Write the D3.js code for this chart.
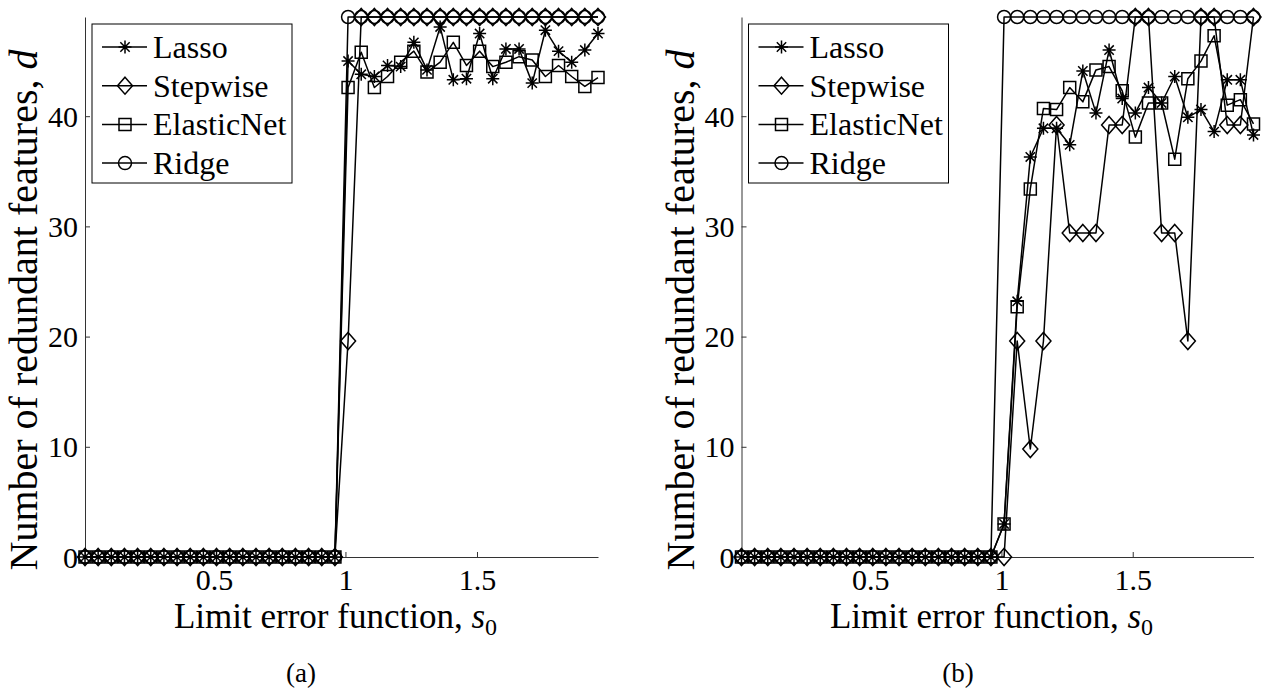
<!DOCTYPE html>
<html>
<head>
<meta charset="utf-8">
<script src="https://cdn.jsdelivr.net/npm/d3@7"></script>
<style>
  html, body { margin: 0; padding: 0; background: #fff; }
  svg { display: block; }
  text { font-family: "Liberation Serif", "Times New Roman", serif; fill: #000; }
</style>
</head>
<body>
<svg id="fig" width="1269" height="695"></svg>
<script>
// Limit error function values s0 (shared by both panels)
const s0 = [0.01, 0.06, 0.11, 0.16, 0.21, 0.26, 0.31, 0.36, 0.41, 0.46,
            0.51, 0.56, 0.61, 0.66, 0.71, 0.76, 0.81, 0.86, 0.91, 0.96,
            1.01, 1.06, 1.11, 1.16, 1.21, 1.26, 1.31, 1.36, 1.41, 1.46,
            1.51, 1.56, 1.61, 1.66, 1.71, 1.76, 1.81, 1.86, 1.91, 1.96];

const zeros20 = [0, 0, 0, 0, 0, 0, 0, 0, 0, 0, 0, 0, 0, 0, 0, 0, 0, 0, 0, 0];

// Panel (a): number of redundant features d
const lassoA = zeros20.concat([45.0, 43.8, 43.6, 44.6, 44.5, 46.7, 44.2, 48.1, 43.3, 43.4,
                               47.5, 43.4, 46.1, 46.1, 43.0, 47.8, 45.9, 44.9, 46.0, 47.5]);
const stepwiseA = zeros20.concat([19.6, 49, 49, 49, 49, 49, 49, 49, 49, 49,
                                  49, 49, 49, 49, 49, 49, 49, 49, 49, 49]);
const elasticA = zeros20.concat([42.6, 45.8, 42.6, 43.6, 44.9, 45.9, 44.0, 44.9, 46.7, 44.6,
                                 45.9, 44.5, 44.9, 45.4, 45.1, 43.6, 44.6, 43.6, 42.7, 43.5]);
const ridgeA = zeros20.concat([49, 49, 49, 49, 49, 49, 49, 49, 49, 49,
                               49, 49, 49, 49, 49, 49, 49, 49, 49, 49]);

// Panel (b)
const lassoB = zeros20.concat([3.0, 23.2, 36.3, 38.9, 38.9, 37.4, 44.1, 40.3, 46.0, 41.6,
                               40.3, 42.6, 41.2, 43.6, 39.9, 40.6, 38.6, 43.3, 43.3, 38.3]);
const stepwiseB = zeros20.concat([0, 19.6, 9.8, 19.6, 39.2, 29.4, 29.4, 29.4, 39.2, 39.2,
                                  49, 49, 29.4, 29.4, 19.6, 49, 49, 39.2, 39.2, 49]);
const elasticB = zeros20.concat([3.0, 22.7, 33.4, 40.7, 40.6, 42.6, 41.3, 44.2, 44.5, 42.3,
                                 38.1, 41.2, 41.2, 36.1, 43.4, 45.0, 47.3, 41.0, 41.5, 39.3]);
const ridgeB = zeros20.concat([49, 49, 49, 49, 49, 49, 49, 49, 49, 49,
                               49, 49, 49, 49, 49, 49, 49, 49, 49, 49]);

const seriesNames = ["Lasso", "Stepwise", "ElasticNet", "Ridge"];
const xTicks = [0.5, 1, 1.5];
const yTicks = [0, 10, 20, 30, 40];
const panelLabels = ["(a)", "(b)"];
const xLabel = "Limit error function, ";
const yLabel = "Number of redundant features, ";

// Marker shapes: asterisk, diamond, square, circle
const markerPaths = {
  Lasso: () => {
    const r = 6.5, q = r * 0.72;
    return `M${-r},0H${r}M0,${-r}V${r}M${-q},${-q}L${q},${q}M${-q},${q}L${q},${-q}`;
  },
  Stepwise: () => "M0,-8.5L7.5,0L0,8.5L-7.5,0Z",
  ElasticNet: () => "M-6,-6H6V6H-6Z",
  Ridge: () => d3.arc()({innerRadius: 0, outerRadius: 6.5, startAngle: 0, endAngle: 2 * Math.PI})
};

const svg = d3.select("#fig");

function drawPanel(opts) {
  const { left, right, top, bottom, series, label, labelX } = opts;
  const g = svg.append("g");
  const x = d3.scaleLinear().domain([s0[0], s0[s0.length - 1]]).range([left, right]);
  const y = d3.scaleLinear().domain([0, 49]).range([bottom, top]);

  // axes (left and bottom only, ticks pointing inward)
  const xAxis = d3.axisBottom(x).tickValues(xTicks).tickFormat(d3.format("")).tickSizeInner(-5).tickSizeOuter(0);
  const yAxis = d3.axisLeft(y).tickValues(yTicks).tickSizeInner(-5).tickSizeOuter(0);

  const gx = g.append("g").attr("transform", `translate(0,${bottom})`).call(xAxis);
  const gy = g.append("g").attr("transform", `translate(${left},0)`).call(yAxis);
  [gx, gy].forEach(a => {
    a.attr("font-family", null).attr("font-size", null);
    a.select(".domain").attr("stroke", "#333").attr("stroke-width", 1);
    a.selectAll(".tick line").attr("stroke", "#333").attr("stroke-width", 1);
    a.selectAll(".tick text").style("font-size", "30px").attr("fill", "#000");
  });
  gx.selectAll(".tick text").attr("dy", null).attr("y", 33);
  gy.selectAll(".tick text").attr("dy", "0.34em").attr("x", -7);

  // series lines and markers
  const line = d3.line().x((d, i) => x(s0[i])).y(d => y(d));
  series.forEach((vals, si) => {
    const name = seriesNames[si];
    g.append("path")
      .attr("d", line(vals))
      .attr("fill", "none")
      .attr("stroke", "#000")
      .attr("stroke-width", 1.5)
      .attr("stroke-linejoin", "round");
    g.append("g").selectAll("path")
      .data(vals)
      .join("path")
      .attr("transform", (d, i) => `translate(${x(s0[i])},${y(d)})`)
      .attr("d", markerPaths[name]())
      .attr("fill", "none")
      .attr("stroke", "#000")
      .attr("stroke-width", 1.5);
  });

  // legend
  const lgX = left + 7, lgY = 24, lgW = 200, lgH = 159;
  const lg = g.append("g");
  lg.append("rect").attr("x", lgX).attr("y", lgY).attr("width", lgW).attr("height", lgH)
    .attr("fill", "#fff").attr("stroke", "#000").attr("stroke-width", 1);
  seriesNames.forEach((name, i) => {
    const cy = 47 + i * 38.7;
    lg.append("line").attr("x1", lgX + 10).attr("x2", lgX + 55).attr("y1", cy).attr("y2", cy)
      .attr("stroke", "#000").attr("stroke-width", 1.5);
    lg.append("path").attr("transform", `translate(${lgX + 33},${cy})`).attr("d", markerPaths[name]())
      .attr("fill", "none").attr("stroke", "#000").attr("stroke-width", 1.5);
    lg.append("text").attr("x", lgX + 61).attr("y", cy + 11).style("font-size", "32px").text(name);
  });

  // axis titles
  const xt = g.append("text")
    .attr("x", (left + right) / 2 - 6).attr("y", 628)
    .attr("text-anchor", "middle").style("font-size", "35px");
  xt.append("tspan").text(xLabel);
  xt.append("tspan").style("font-style", "italic").text("s");
  xt.append("tspan").attr("dy", 7).style("font-size", "24px").text("0");

  const yt = g.append("text")
    .attr("transform", `translate(${left - 48},${(top + bottom) / 2 + 23}) rotate(-90)`)
    .attr("text-anchor", "middle").style("font-size", "40px");
  yt.append("tspan").text(yLabel);
  yt.append("tspan").style("font-style", "italic").text("d");

  g.append("text").attr("x", labelX).attr("y", 682).attr("text-anchor", "middle")
    .style("font-size", "27px").text(label);
}

drawPanel({ left: 85, right: 598, top: 17, bottom: 557,
            series: [lassoA, stepwiseA, elasticA, ridgeA], label: panelLabels[0], labelX: 301 });
drawPanel({ left: 741.5, right: 1253.5, top: 17, bottom: 557,
            series: [lassoB, stepwiseB, elasticB, ridgeB], label: panelLabels[1], labelX: 958 });
</script>
</body>
</html>
